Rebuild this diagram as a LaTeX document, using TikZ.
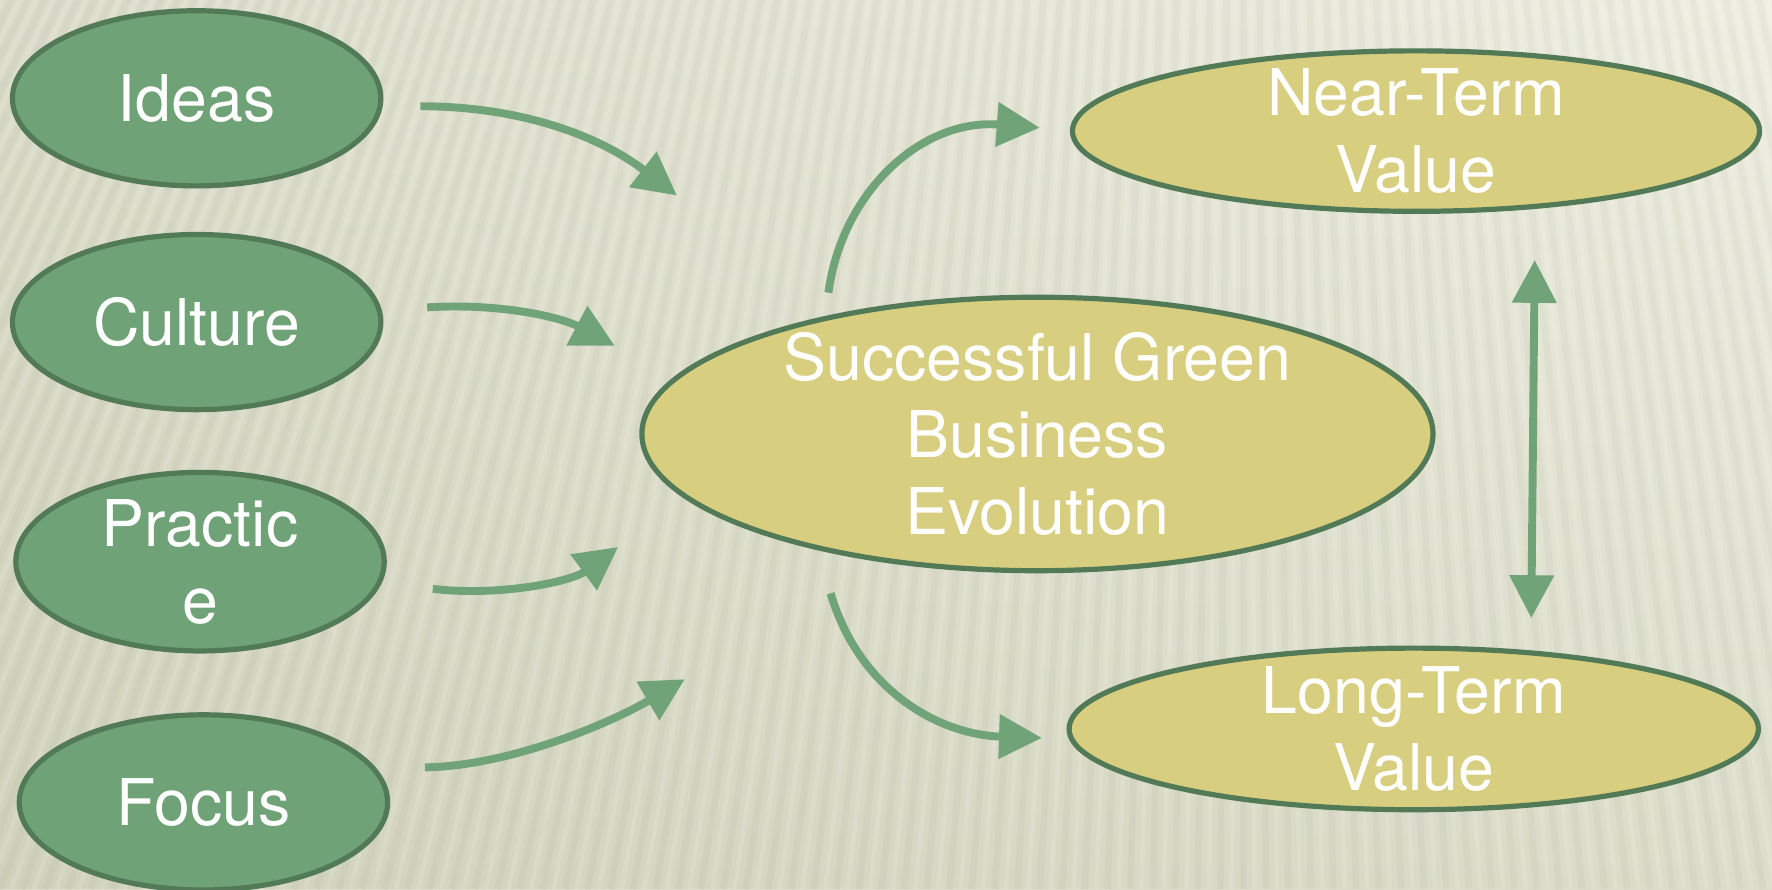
\documentclass[tikz,border=0pt]{standalone}
\usepackage{fontspec}
\setmainfont{TeX Gyre Heros}
\usetikzlibrary{shapes.geometric,arrows.meta,fadings}
\definecolor{bgA}{HTML}{EEEEE2}
\definecolor{bgB}{HTML}{DCDDCA}
\definecolor{bgC}{HTML}{C4C6AB}
\definecolor{gfill}{HTML}{6FA377}
\definecolor{gedge}{HTML}{527A57}
\definecolor{yfill}{HTML}{D8CE80}
\definecolor{arr}{HTML}{70A478}
\begin{document}
\begin{tikzpicture}[x=0.5pt,y=-0.5pt,
  lbl/.style={text=white, font=\fontsize{28.5}{34}\selectfont, align=center, inner sep=0pt},
  oval/.style={ellipse, draw=gedge, line width=2.3pt, inner sep=0pt},
  gnode/.style={oval, fill=gfill, minimum width=163pt, minimum height=77.5pt},
  ynode/.style={oval, fill=yfill},
  conn/.style={draw=arr, line width=3.5pt, -{Triangle[length=19pt,width=19pt]}},
  dconn/.style={draw=arr, line width=3.5pt, {Triangle[length=19pt,width=19pt]}-{Triangle[length=19pt,width=19pt]}}
]
\useasboundingbox (0,0) rectangle (1568,787);
% background
\shade[top color=bgA, bottom color=bgB] (0,0) rectangle (1568,787);
\fill[bgC, path fading=east, opacity=0.45] (0,0) rectangle (1568,787);
\begin{scope}
\clip (0,0) rectangle (1568,787);
\foreach \bx in {-1200,-1180,...,3000} {
  \draw[black, opacity=0.025, line width=3pt] (1100,-2200) -- (\bx,787);
  \draw[white, opacity=0.12, line width=2pt] (1100,-2200) -- (\bx+10,787);
}
\end{scope}
% nodes
\node[gnode, label={[lbl]center:Ideas}] (ideas) at (174,87) {};
\node[gnode, label={[lbl]center:Culture}] (culture) at (174,285) {};
\node[gnode, minimum height=79pt, label={[lbl]center:Practic\\e}] (practice) at (177,497) {};
\node[gnode, label={[lbl]center:Focus}] (focus) at (180,710) {};
\node[ynode, minimum width=350pt, minimum height=121pt, label={[lbl]center:Successful Green\\Business\\Evolution}] (sgbe) at (918,384) {};
\node[ynode, minimum width=304pt, minimum height=71pt, label={[lbl]center:Near-Term\\Value}] (near) at (1253,116) {};
\node[ynode, minimum width=305pt, minimum height=71.5pt, label={[lbl]center:Long-Term\\Value}] (long) at (1251,645) {};
% connector end points
\coordinate (a1) at (372,94);  \coordinate (b1) at (599,173);
\coordinate (a2) at (378,272); \coordinate (b2) at (544,306);
\coordinate (a3) at (383,521); \coordinate (b3) at (547,484);
\coordinate (a4) at (376,679); \coordinate (b4) at (606,601);
\coordinate (a5) at (733,259); \coordinate (b5) at (920,113);
\coordinate (a6) at (735,525); \coordinate (b6) at (922,653);
\coordinate (a7) at (1358,230); \coordinate (b7) at (1355,547);
% connectors
\draw[conn] (a1) .. controls (460,94) and (530,120) .. (b1);
\draw[conn] (a2) .. controls (440,268) and (495,280) .. (b2);
\draw[conn] (a3) .. controls (440,528) and (505,515) .. (b3);
\draw[conn] (a4) .. controls (450,678) and (540,640) .. (b4);
\draw[conn] (a5) .. controls (745,170) and (815,105) .. (b5);
\draw[conn] (a6) .. controls (760,610) and (830,650) .. (b6);
\draw[dconn] (a7) -- (b7);
\end{tikzpicture}
\end{document}
